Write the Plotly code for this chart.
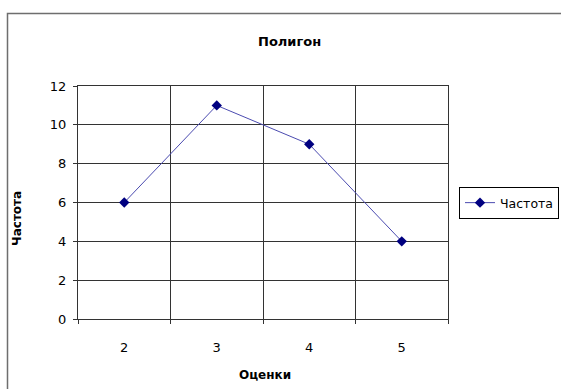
import plotly.graph_objects as go

# Frequency polygon of grades
grades = ["2", "3", "4", "5"]
freq = [6, 11, 9, 4]
y_ticks = [0, 2, 4, 6, 8, 10, 12]

W, H = 561, 389
L, R, T, B = 78, 113, 86, 70
pw, ph = W - L - R, H - T - B

def px(x):
    return (x - L) / pw

def py(y):
    return (H - B - y) / ph

font = "DejaVu Sans, Verdana, sans-serif"

fig = go.Figure()
fig.add_trace(go.Scatter(
    x=grades, y=freq, mode="lines+markers", name="Частота",
    line=dict(color="#4b4bb0", width=1),
    marker=dict(symbol="diamond", size=8, color="#000080"),
))

fig.update_layout(
    width=W, height=H,
    margin=dict(l=L, r=R, t=T, b=B, autoexpand=False),
    paper_bgcolor="white", plot_bgcolor="white",
    font=dict(family=font, size=13, color="black"),
    showlegend=True,
    legend=dict(
        xref="container", yref="container",
        x=459 / W, y=1 - 203 / H, xanchor="left", yanchor="middle",
        bordercolor="black", borderwidth=1, bgcolor="white",
        font=dict(size=12.5, family=font),
        itemwidth=30, tracegroupgap=0,
    ),
    xaxis=dict(
        type="category", range=[-0.5, 3.5], tickson="boundaries",
        showgrid=True, gridcolor="#333333", gridwidth=1,
        showline=True, linecolor="#333333", linewidth=1, mirror=True,
        ticks="outside", ticklen=4, tickcolor="#333333",
        tickfont=dict(size=13), ticklabelstandoff=16,
        zeroline=False,
    ),
    yaxis=dict(
        range=[0, 12], tickvals=y_ticks,
        showgrid=True, gridcolor="#333333", gridwidth=1,
        showline=True, linecolor="#333333", linewidth=1, mirror=True,
        ticks="outside", ticklen=4, tickcolor="#333333",
        tickfont=dict(size=13), ticklabelstandoff=4, zeroline=False,
    ),
    annotations=[
        dict(text="<b>Полигон</b>", x=px(289), y=py(41), xref="paper", yref="paper",
             xanchor="center", yanchor="middle",
             showarrow=False, font=dict(size=13, family=font)),
        dict(text="<b>Оценки</b>", x=px(265), y=py(375), xref="paper", yref="paper",
             xanchor="center", yanchor="middle",
             showarrow=False, font=dict(size=12, family=font)),
        dict(text="<b>Частота</b>", x=px(17), y=py(219), xref="paper", yref="paper",
             xanchor="center", yanchor="middle",
             showarrow=False, textangle=-90, font=dict(size=12, family=font)),
    ],
    shapes=[
        dict(type="path", xref="paper", yref="paper",
             path=f"M {px(7.5)} {py(395)} L {px(7.5)} {py(13.5)} L {px(570)} {py(13.5)}",
             line=dict(color="#6e6e6e", width=1.5)),
    ],
)

fig.write_html("out.html")
